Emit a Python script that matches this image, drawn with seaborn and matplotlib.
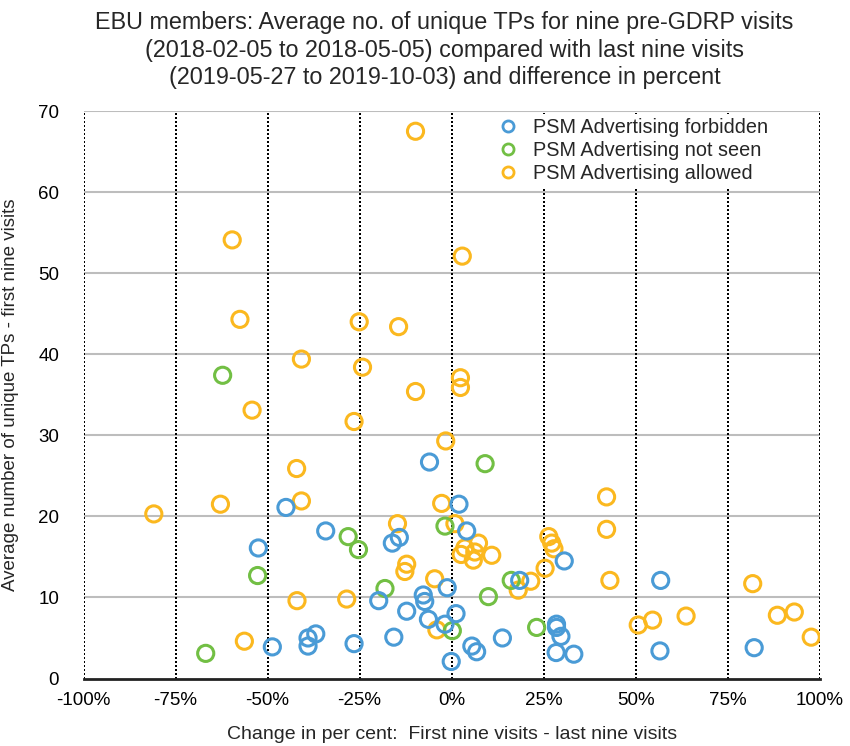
import matplotlib
matplotlib.use("Agg")
import matplotlib.pyplot as plt
from matplotlib.lines import Line2D
import numpy as np
import pandas as pd
import seaborn as sns

# change in per cent (x) vs average no. of unique TPs, first nine visits (y)
forbidden_x = [-6.0, -45.0, 2.0, -34.2, -14.2, -16.1, -52.5, 4.1, 30.6, 18.5,
               56.8, -1.2, -19.8, -7.7, -7.3, -12.2, 1.2, -6.3, -1.8, -48.7,
               -39.0, -36.9, -39.0, -26.5, -15.7, -0.1, 13.8, 5.5, 6.8, 28.5,
               28.5, 29.7, 28.4, 33.2, 56.6, 82.2]
forbidden_y = [26.7, 21.1, 21.5, 18.2, 17.4, 16.7, 16.1, 18.2, 14.5, 12.1,
               12.1, 11.2, 9.6, 10.3, 9.5, 8.3, 8.0, 7.3, 6.7, 3.9,
               5.0, 5.5, 4.0, 4.3, 5.1, 2.1, 5.0, 4.0, 3.3, 6.7,
               6.3, 5.2, 3.2, 3.0, 3.4, 3.8]

not_seen_x = [-62.2, 9.1, -28.1, -25.3, -1.8, -52.7, -18.1, 0.2, -66.8, 16.2,
              10.0, 23.1]
not_seen_y = [37.4, 26.5, 17.5, 15.9, 18.8, 12.7, 11.1, 5.9, 3.1, 12.1,
              10.1, 6.3]

allowed_x = [-9.8, -59.6, 2.9, -57.5, -25.1, -14.4, -40.8, -24.2, -9.8, 2.4,
             2.4, -54.2, -26.5, -1.6, -42.1, -40.8, -62.8, -80.9, -2.7, -14.7,
             0.9, 42.1, 42.1, 3.6, 7.3, 6.3, 10.9, 5.9, 2.6, -12.2,
             -12.7, -4.6, -42.0, -28.5, -4.0, -56.3, 26.4, 27.2, 27.8, 25.4,
             21.5, 18.1, 43.0, 81.8, 50.7, 54.6, 63.7, 88.5, 93.1, 97.7]
allowed_y = [67.5, 54.1, 52.1, 44.3, 44.0, 43.4, 39.4, 38.4, 35.4, 37.1,
             35.9, 33.1, 31.7, 29.3, 25.9, 21.9, 21.5, 20.3, 21.6, 19.1,
             19.1, 22.4, 18.4, 16.1, 16.7, 15.6, 15.2, 14.6, 15.3, 14.1,
             13.2, 12.3, 9.6, 9.8, 6.0, 4.6, 17.5, 16.7, 16.0, 13.6,
             12.0, 10.9, 12.1, 11.7, 6.6, 7.2, 7.7, 7.8, 8.2, 5.1]

labels = ["PSM Advertising forbidden", "PSM Advertising not seen", "PSM Advertising allowed"]
colors = ["#4a9bd6", "#72bf44", "#fbb81f"]

x_ticks = [-100, -75, -50, -25, 0, 25, 50, 75, 100]
y_ticks = [0, 10, 20, 30, 40, 50, 60, 70]

title = ("EBU members: Average no. of unique TPs for nine pre-GDRP visits\n"
         "(2018-02-05 to 2018-05-05) compared with last nine visits\n"
         "(2019-05-27 to 2019-10-03) and difference in percent")

sns.set_style("white")
plt.rcParams["font.family"] = ["Liberation Sans", "DejaVu Sans"]

df = pd.concat([
    pd.DataFrame({"change": forbidden_x, "tps": forbidden_y, "group": labels[0]}),
    pd.DataFrame({"change": not_seen_x, "tps": not_seen_y, "group": labels[1]}),
    pd.DataFrame({"change": allowed_x, "tps": allowed_y, "group": labels[2]}),
])

W, H = 850, 746
fig = plt.figure(figsize=(W / 100, H / 100), dpi=100)
left, right, top, bottom = 83.5, 819.7, 111, 678.5
ax = fig.add_axes([left / W, 1 - bottom / H, (right - left) / W, (bottom - top) / H])

# grid first
for yv in y_ticks[1:]:
    ax.axhline(yv, color="#bdbdbd", lw=1.5, zorder=0)
for xv in x_ticks:
    ax.axvline(xv, color="black", lw=1.44, linestyle=(0, (1, 1)), zorder=0.5)

# draw allowed, not seen, forbidden (blue on top)
for i in [2, 1, 0]:
    sub = df[df["group"] == labels[i]]
    sns.scatterplot(data=sub, x="change", y="tps", ax=ax, color=colors[i],
                    facecolor="none", edgecolor=colors[i], s=135, linewidth=2.2,
                    legend=False, zorder=3)

ax.set_xlim(-100, 100)
ax.set_ylim(0, 70)
ax.set_xticks(x_ticks)
ax.set_xticklabels([f"{v}%" for v in x_ticks])
ax.set_yticks(y_ticks)
ax.tick_params(axis="both", length=0, labelsize=13.5, colors="black")
ax.tick_params(axis="x", pad=10)
ax.tick_params(axis="y", pad=17.5)
for lab in ax.get_yticklabels():
    lab.set_horizontalalignment("right")

for side in ["top", "right", "left"]:
    ax.spines[side].set_visible(False)
ax.spines["bottom"].set_color("#222222")
ax.spines["bottom"].set_linewidth(2)
ax.spines["bottom"].set_zorder(4)

ax.set_xlabel("Change in per cent:  First nine visits - last nine visits", fontsize=14, labelpad=12)
ax.set_ylabel("Average number of unique TPs - first nine visits", fontsize=13.5, labelpad=14)

fig.text(0.523, 1 - 11 / H, title, ha="center", va="top", fontsize=16.8, linespacing=1.25)

handles = [Line2D([], [], linestyle="none", marker="o", markersize=8, markeredgewidth=2.0,
                  markerfacecolor="none", markeredgecolor=c) for c in colors]
leg = ax.legend(handles, labels, loc="upper left", bbox_to_anchor=(494 / W, 1 - 114 / H),
                bbox_transform=fig.transFigure, fontsize=14.3, frameon=True, facecolor="white",
                edgecolor="none", framealpha=1, fancybox=False, handlelength=1.0,
                handletextpad=0.75, labelspacing=0.2, borderpad=0.2, borderaxespad=0)
leg.set_zorder(5)

fig.savefig("out.png", dpi=100)
